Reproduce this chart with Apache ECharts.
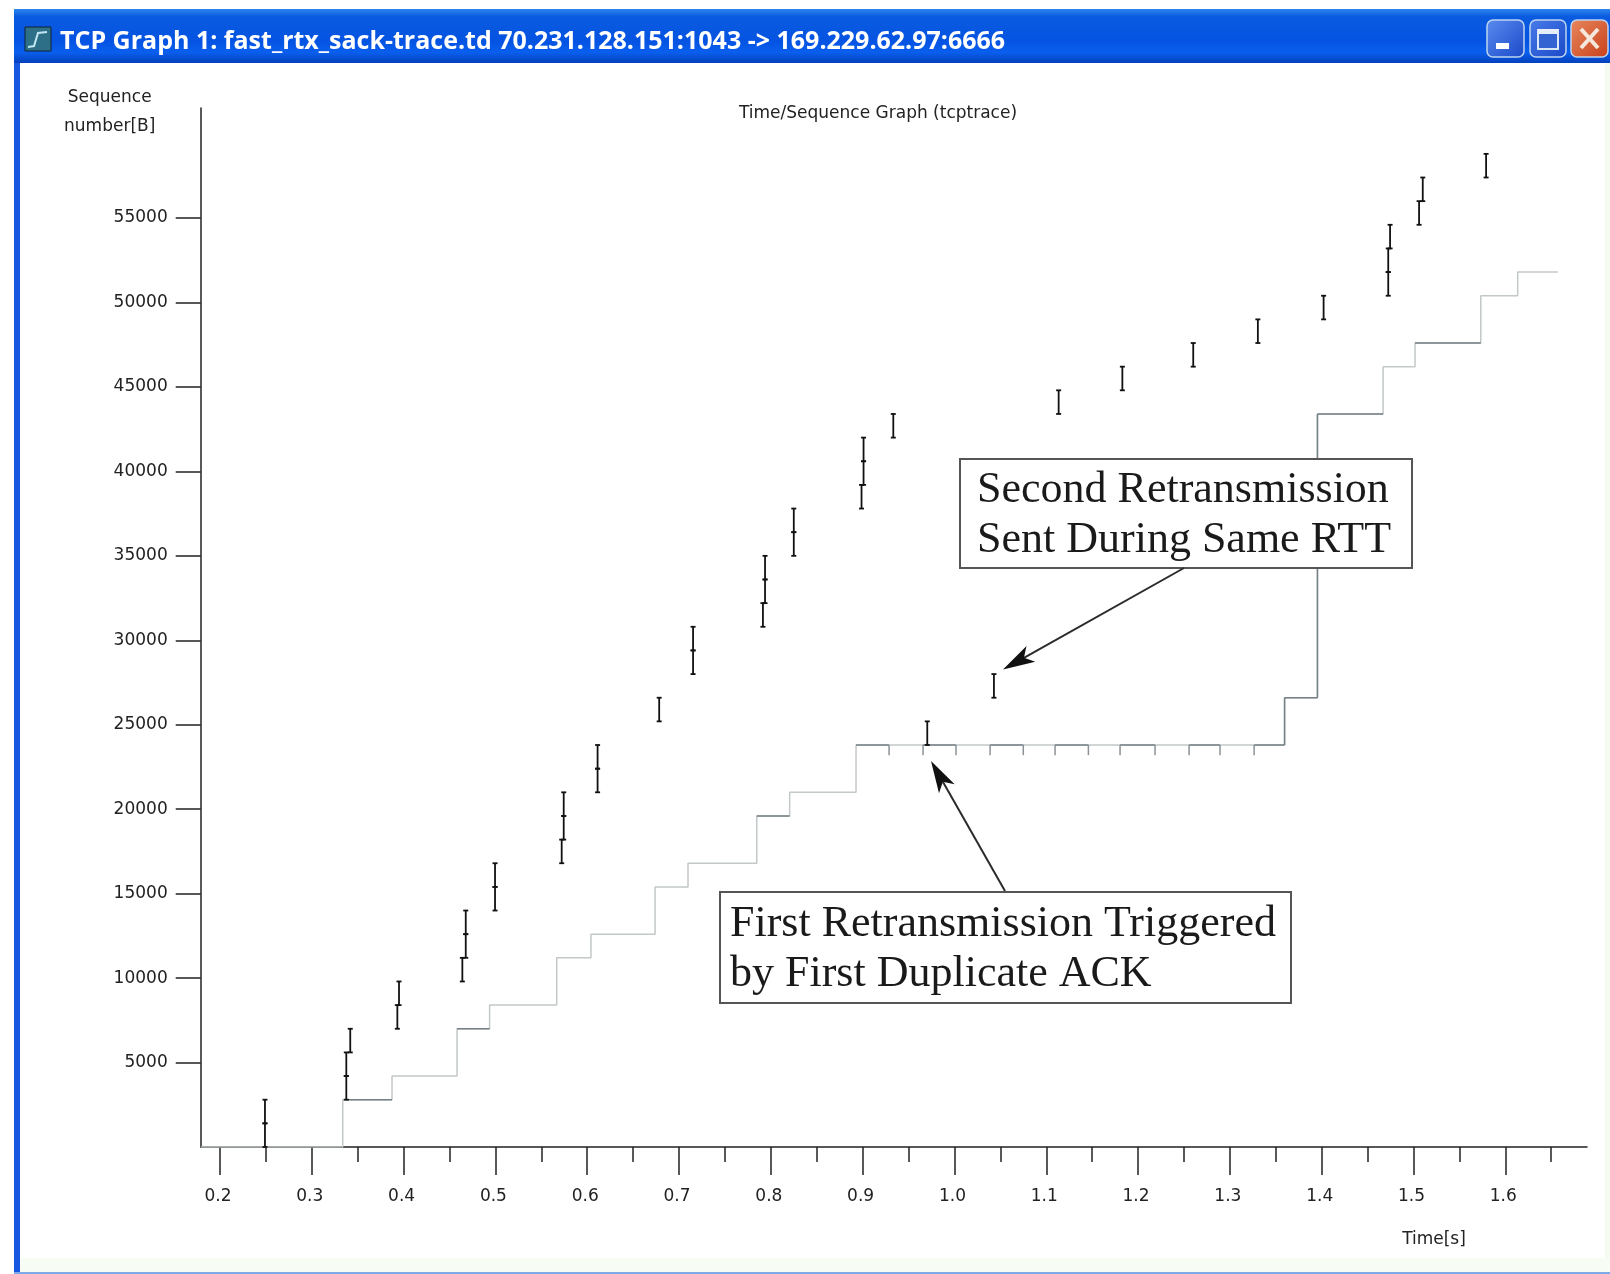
<!DOCTYPE html>
<html><head><meta charset="utf-8">
<style>html,body{margin:0;padding:0;background:#fff}#c{width:1610px;height:1274px}</style>
<script src="https://cdn.jsdelivr.net/npm/echarts@6/dist/echarts.min.js"></script>
</head><body><div id="c"></div>
<script>
const windowTitle = 'TCP Graph 1: fast_rtx_sack-trace.td 70.231.128.151:1043 -> 169.229.62.97:6666';
const chartTitle = 'Time/Sequence Graph (tcptrace)';
const xName = 'Time[s]';
const yName = 'Sequence\nnumber[B]';
const noteFirst = 'First Retransmission Triggered\nby First Duplicate ACK';
const noteSecond = 'Second Retransmission\nSent During Same RTT';

const xMajor = [0.2,0.3,0.4,0.5,0.6,0.7,0.8,0.9,1.0,1.1,1.2,1.3,1.4,1.5,1.6];
const xMinor = [0.25,0.35,0.45,0.55,0.65,0.75,0.85,0.95,1.05,1.15,1.25,1.35,1.45,1.55,1.65];
const yMajor = [5000,10000,15000,20000,25000,30000,35000,40000,45000,50000,55000];

// data segments: time, first byte, last byte
const segTime = [0.2490,0.2490,0.3376,0.3376,0.3419,0.3932,0.3950,0.4640,0.4677,0.4677,0.4996,0.4996,
  0.5722,0.5744,0.5744,0.6113,0.6113,0.6784,0.7153,0.7153,0.7914,0.7937,0.7937,0.8250,0.8250,
  0.8988,0.9010,0.9010,0.9334,0.9704,1.0430,1.1135,1.1829,1.2601,1.3305,1.4021,
  1.4725,1.4725,1.4745,1.5061,1.5101,1.5791];
const segLow = [0,1400,2800,4200,5600,7000,8400,9800,11200,12600,14000,15400,
  16800,18200,19600,21000,22400,25200,28000,29400,30800,32200,33600,35000,36400,
  37800,39200,40600,42000,23800,26600,43400,44800,46200,47600,49000,
  50400,51800,53200,54600,56000,57400];
const segHigh = [1400,2800,4200,5600,7000,8400,9800,11200,12600,14000,15400,16800,
  18200,19600,21000,22400,23800,26600,29400,30800,32200,33600,35000,36400,37800,
  39200,40600,42000,43400,25200,28000,44800,46200,47600,49000,50400,
  51800,53200,54600,56000,57400,58800];

// cumulative ACK step line
const ackTime = [0.1790,0.3337,0.3874,0.4582,0.4937,0.5668,0.6041,0.6739,0.7098,0.7847,0.8205,0.8928,1.3596,1.3954,1.4669,1.5017,1.5733,1.6135,1.6572];
const ackSeq  = [0,2800,4200,7000,8400,11200,12600,15400,16800,19600,21000,23800,26600,43400,46200,47600,50400,51800,51800];

// darker stretches of the ACK line
const spanStart = [0.3376,0.4582,0.7847,0.8928,0.9658,1.0388,1.1096,1.1804,1.2556,1.3264,1.3596,1.3954,1.5017,1.3596,1.3954];
const spanEnd   = [0.3874,0.4937,0.8205,0.9288,1.0017,1.0750,1.1459,1.2185,1.2893,1.3596,1.3954,1.4669,1.5733,1.3596,1.3954];
const spanFrom  = [2800,7000,19600,23800,23800,23800,23800,23800,23800,23800,26600,43400,47600,23800,26600];
const spanTo    = [2800,7000,19600,23800,23800,23800,23800,23800,23800,23800,26600,43400,47600,26600,43400];

// duplicate ACK ticks
const dupTime = [0.9288,0.9658,1.0017,1.0388,1.0750,1.1096,1.1459,1.1804,1.2185,1.2556,1.2893,1.3264];
const dupSeq = 23800;
const dupDrop = 600;

const segData = segTime.map((t,i)=>[t,segLow[i],segHigh[i]]);
const ackData = ackTime.map((t,i)=>[t,ackSeq[i]]);
const spanData = spanStart.map((t,i)=>[t,spanEnd[i],spanFrom[i],spanTo[i]]);
const dupData = dupTime.map(t=>[t,dupSeq,dupSeq-dupDrop]);

const uiFont = '"DejaVu Sans", sans-serif';
const serif = '"Liberation Serif", serif';

function arrow(x1,y1,x2,y2){
  const a=Math.atan2(y2-y1,x2-x1),c=Math.cos(a),s=Math.sin(a),L=32,W=9,N=24;
  return [
    {type:'line',z:60,shape:{x1,y1,x2:x2-c*N,y2:y2-s*N},style:{stroke:'#2b2b2b',lineWidth:2}},
    {type:'polygon',z:60,shape:{points:[[x2,y2],[x2-c*L-s*W,y2-s*L+c*W],[x2-c*N,y2-s*N],[x2-c*L+s*W,y2-s*L-c*W]]},style:{fill:'#111'}}
  ];
}
function note(x,y,w,h,text,tx,ty,size){
  return [
    {type:'rect',z:50,shape:{x,y,width:w,height:h},style:{fill:'#fff',stroke:'#555',lineWidth:2}},
    {type:'text',z:51,x:tx,y:ty,style:{text,font:size+'px '+serif,fill:'#1a1a1a',lineHeight:49.5,textVerticalAlign:'top'}}
  ];
}
function winBtn(x,w,a,b){
  return {type:'rect',z:41,shape:{x,y:20,width:w,height:37,r:6},
    style:{fill:new echarts.graphic.LinearGradient(0,0,1,1,[{offset:0,color:a},{offset:1,color:b}]),stroke:'#bcd4f0',lineWidth:1.5}};
}
const chrome = [
  {type:'rect',z:40,shape:{x:14,y:9,width:1596,height:54},
    style:{fill:new echarts.graphic.LinearGradient(0,0,0,1,[
      {offset:0,color:'#2f86ee'},{offset:0.14,color:'#0a5be0'},{offset:0.6,color:'#0553e2'},
      {offset:0.8,color:'#0a5fee'},{offset:1,color:'#0440bb'}])}},
  {type:'rect',z:40,shape:{x:14,y:63,width:6,height:1211},style:{fill:'#1557e0'}},
  {type:'rect',z:40,shape:{x:14,y:1272,width:1596,height:2},style:{fill:'#7fa8e8'}},
  {type:'rect',z:1,shape:{x:1605,y:63,width:5,height:1209},style:{fill:'#f5fbf1'}},
  {type:'rect',z:1,shape:{x:20,y:1258,width:1590,height:14},style:{fill:'#f7fcf5'}},
  {type:'rect',z:41,shape:{x:25,y:27,width:26,height:24},style:{fill:'#2d6f86',stroke:'#123',lineWidth:1}},
  {type:'polyline',z:42,shape:{points:[[28,47],[34,46],[38,33],[47,32]]},style:{stroke:'#bfe6f2',lineWidth:2,fill:null}},
  {type:'text',z:42,x:60,y:42,style:{text:windowTitle,font:'bold 25px "Open Sans", sans-serif',fill:'#fff',textVerticalAlign:'middle'}},
  winBtn(1487,37,'#5a8cf0','#1a48c8'),
  {type:'rect',z:42,shape:{x:1496,y:43,width:13,height:6},style:{fill:'#fff'}},
  winBtn(1530,36,'#4a7cea','#1a48c8'),
  {type:'rect',z:42,shape:{x:1538,y:30,width:20,height:19},style:{fill:'#3463d2',stroke:'#dbe7f7',lineWidth:2}},
  {type:'rect',z:42,shape:{x:1538,y:29,width:20,height:5},style:{fill:'#e6eefa'}},
  winBtn(1571,37,'#e8885e','#c8401a'),
  {type:'line',z:42,shape:{x1:1581,y1:29,x2:1598,y2:48},style:{stroke:'#f4e8dc',lineWidth:4}},
  {type:'line',z:42,shape:{x1:1598,y1:29,x2:1581,y2:48},style:{stroke:'#f4e8dc',lineWidth:4}}
];

const option = {
  animation:false,
  backgroundColor:'#fff',
  title:{text:chartTitle,left:873,top:100,textAlign:'center',
    textStyle:{fontFamily:uiFont,fontWeight:'normal',fontSize:17,color:'#222'}},
  grid:{left:200.7,top:108,width:1386.3,height:1039,containLabel:false},
  xAxis:[
    {type:'value',min:0.179,max:1.689,name:xName,nameLocation:'end',nameGap:-153,
     nameTextStyle:{fontFamily:uiFont,fontSize:17,color:'#222',align:'center',verticalAlign:'top',padding:[84,0,0,0]},
     axisLine:{show:true,onZero:false,lineStyle:{color:'#222',width:1.5}},
     axisTick:{show:true,length:28,customValues:xMajor,lineStyle:{color:'#222',width:1.5}},
     axisLabel:{show:true,customValues:xMajor,margin:41,padding:[0,4,0,0],fontFamily:uiFont,fontSize:17,color:'#222',formatter:v=>v.toFixed(1),showMinLabel:true,showMaxLabel:true},
     splitLine:{show:false}},
    {type:'value',min:0.179,max:1.689,position:'bottom',
     axisLine:{show:false,onZero:false},
     axisTick:{show:true,length:15,customValues:xMinor,lineStyle:{color:'#222',width:1.5}},
     axisLabel:{show:false},splitLine:{show:false}}
  ],
  yAxis:{type:'value',min:0,max:61515,name:yName,nameLocation:'end',nameGap:-33,
     nameTextStyle:{fontFamily:uiFont,fontSize:17,color:'#222',align:'center',verticalAlign:'bottom',lineHeight:29,padding:[0,182,0,0]},
     axisLine:{show:true,onZero:false,lineStyle:{color:'#222',width:1.5}},
     axisTick:{show:true,length:25,customValues:yMajor,lineStyle:{color:'#222',width:1.5}},
     axisLabel:{show:true,customValues:yMajor,margin:33,padding:[4,0,0,0],fontFamily:uiFont,fontSize:17,color:'#222',verticalAlign:'middle',formatter:v=>String(v)},
     splitLine:{show:false}},
  series:[
    {type:'line',name:'ACK',data:ackData,step:'end',symbol:'none',z:3,silent:true,
     lineStyle:{color:'#c3c8c9',width:1.5}},
    {type:'custom',name:'ACK dark',data:spanData,z:4,silent:true,
     encode:{x:[0,1],y:[2,3]},
     renderItem:(p,api)=>{
       const a=api.coord([api.value(0),api.value(2)]),b=api.coord([api.value(1),api.value(3)]);
       return {type:'line',shape:{x1:a[0],y1:a[1],x2:b[0],y2:b[1]},style:{stroke:'#768186',lineWidth:1.5}};
     }},
    {type:'custom',name:'Duplicate ACK',data:dupData,z:4,silent:true,
     encode:{x:0,y:[1,2]},
     renderItem:(p,api)=>{
       const a=api.coord([api.value(0),api.value(1)]),b=api.coord([api.value(0),api.value(2)]);
       return {type:'line',shape:{x1:a[0],y1:a[1],x2:b[0],y2:b[1]},style:{stroke:'#8a9296',lineWidth:1.5}};
     }},
    {type:'custom',name:'Segments',data:segData,z:5,silent:true,
     encode:{x:0,y:[1,2]},
     renderItem:(p,api)=>{
       const a=api.coord([api.value(0),api.value(1)]),b=api.coord([api.value(0),api.value(2)]),c=2.5;
       const st={stroke:'#111',lineWidth:1.8};
       return {type:'group',children:[
         {type:'line',shape:{x1:a[0],y1:a[1],x2:b[0],y2:b[1]},style:st},
         {type:'line',shape:{x1:a[0]-c,y1:a[1],x2:a[0]+c,y2:a[1]},style:st},
         {type:'line',shape:{x1:b[0]-c,y1:b[1],x2:b[0]+c,y2:b[1]},style:st}
       ]};
     }}
  ],
  graphic:{elements:[].concat(chrome,
    note(960,459,452,109,noteSecond,977,466,44),
    note(720,892,571,111,noteFirst,730,900,44),
    arrow(1184,568,1003,669.5),
    arrow(1005,891,931,761))}
};
const chart = echarts.init(document.getElementById('c'),null,{renderer:'canvas',width:1610,height:1274});
chart.setOption(option);
</script></body></html>
